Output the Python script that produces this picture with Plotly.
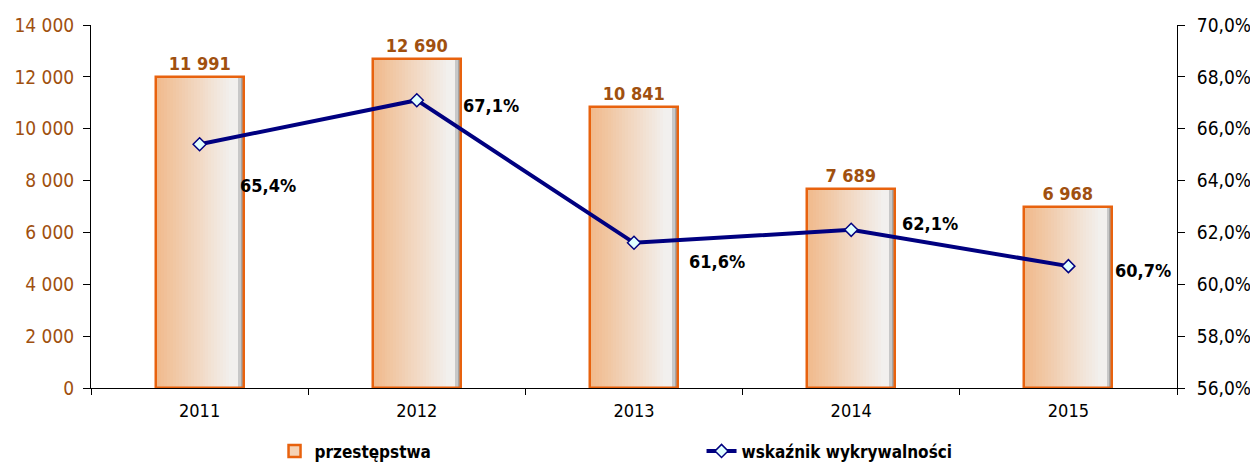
import plotly.graph_objects as go

years = ["2011", "2012", "2013", "2014", "2015"]
crimes = [11991, 12690, 10841, 7689, 6968]
detection = [65.4, 67.1, 61.6, 62.1, 60.7]
left_ticks = [0, 2000, 4000, 6000, 8000, 10000, 12000, 14000]
right_ticks = [56, 58, 60, 62, 64, 66, 68, 70]
right_labels = ["56,0%", "58,0%", "60,0%", "62,0%", "64,0%", "66,0%", "68,0%", "70,0%"]

# label shifts (px) for the line labels
lab_dx = [68, 74, 83, 79, 75]
lab_dy = [-41, -5, -19, 6, -4]

BAR_W = 0.405
FONT = "DejaVu Sans Condensed, Liberation Sans Narrow, Arial Narrow, sans-serif"

def lerp(c1, c2, t):
    return "rgb(%d,%d,%d)" % tuple(round(a + (b - a) * t) for a, b in zip(c1, c2))

fig = go.Figure()

# gradient fill emulated with thin overlaid bar slices
n = 30
left_c = (241, 186, 140)
right_c = (242, 240, 238)
for i in range(n):
    t = i / (n - 1)
    if i >= n - 2:
        col = lerp((200, 200, 200), (165, 165, 165), (i - (n - 2)))
    else:
        col = lerp(left_c, right_c, min(1, t * 1.15))
    fig.add_trace(go.Bar(
        x=years, y=crimes, width=BAR_W / n + 0.002,
        offset=-BAR_W / 2 + i * BAR_W / n,
        marker=dict(color=col, line=dict(width=0)),
        showlegend=False, hoverinfo="skip", yaxis="y",
    ))

# outline + labels
fig.add_trace(go.Bar(
    x=years, y=crimes, width=BAR_W, name="przestępstwa",
    marker=dict(color="rgba(0,0,0,0)", line=dict(color="#E8620E", width=2.5)),
    texttemplate="<b>%{y:,d}</b>", textposition="outside", cliponaxis=False,
    textfont=dict(family=FONT, size=18, color="#A0500F"),
    showlegend=False, yaxis="y",
))
# legend-only bar
fig.add_trace(go.Bar(
    x=[years[0]], y=[None], name="<b>przestępstwa</b>",
    marker=dict(color="#F5D3B6", line=dict(color="#E8620E", width=2.5)),
    showlegend=True, hoverinfo="skip",
))

fig.add_trace(go.Scatter(
    x=years, y=detection, yaxis="y2", name="<b>wskaźnik wykrywalności</b>",
    mode="lines+markers",
    line=dict(color="#000080", width=4),
    marker=dict(symbol="diamond", size=10, color="#E0FFFF", line=dict(color="#000080", width=1.5)),
))

for i, v in enumerate(detection):
    fig.add_annotation(
        x=i, y=v, yref="y2", xref="x",
        text="<b>" + f"{v:.1f}%".replace(".", ",") + "</b>",
        showarrow=False, xshift=lab_dx[i], yshift=lab_dy[i],
        font=dict(family=FONT, size=18, color="#000000"),
    )

# page body has an 8px default margin, so the figure is sized/placed to compensate
fig.update_layout(
    width=1250, height=455,
    margin=dict(l=83, r=81, t=17, b=75, autoexpand=False),
    paper_bgcolor="white", plot_bgcolor="white",
    barmode="overlay", bargap=0,
    separators=", ",
    font=dict(family=FONT, size=18, color="#000000"),
    xaxis=dict(
        type="category", categoryorder="array", categoryarray=years,
        range=[-0.5, 4.5], automargin=False,
        showline=True, linecolor="#000000", linewidth=1,
        ticks="outside", ticklen=6, tickson="boundaries", tickcolor="#000000",
        ticklabelstandoff=6,
        tickfont=dict(size=18, color="#000000"), showgrid=False,
    ),
    yaxis=dict(
        range=[0, 14000], tickvals=left_ticks, tickformat=",d", automargin=False,
        showline=True, linecolor="#000000", linewidth=1,
        ticks="outside", ticklen=7, tickcolor="#000000", ticklabelstandoff=5,
        tickfont=dict(size=19, color="#A0500F"), showgrid=False, zeroline=False,
    ),
    yaxis2=dict(
        range=[56, 70], tickvals=right_ticks, ticktext=right_labels, automargin=False,
        overlaying="y", side="right",
        showline=True, linecolor="#000000", linewidth=1,
        ticks="outside", ticklen=7, tickcolor="#000000", ticklabelstandoff=8,
        tickfont=dict(size=19, color="#000000"), showgrid=False, zeroline=False,
    ),
    legend=dict(
        orientation="h", x=0.169, y=-0.125, xanchor="left", yanchor="top",
        entrywidth=382, font=dict(size=17, color="#000000", family=FONT),
        traceorder="normal",
    ),
    showlegend=True,
)

fig.write_html("out.html")
